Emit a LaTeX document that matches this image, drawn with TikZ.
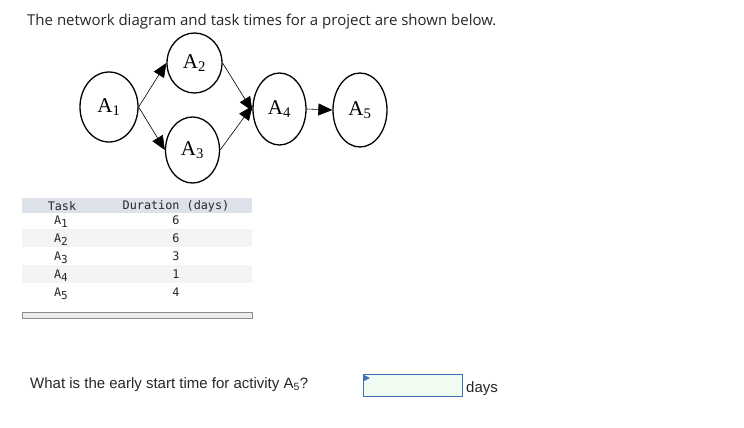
\documentclass[tikz,border=0pt]{standalone}
\usepackage{fontspec}
\setmainfont{Liberation Serif}
\setsansfont{Open Sans}
\setmonofont{DejaVu Sans Mono}
\newfontfamily\arialfont{Liberation Sans}
\usetikzlibrary{arrows.meta,shapes.geometric}

\definecolor{headgray}{HTML}{DDE1E9}
\definecolor{rowgray}{HTML}{F4F4F4}
\definecolor{boxblue}{HTML}{3C72B8}
\definecolor{boxgreen}{HTML}{F1FCF1}

\newcommand\lowsub[1]{\raisebox{-3.5pt}{\fontsize{11}{11}\selectfont #1}}

\begin{document}
\begin{tikzpicture}[x=1pt,y=-1pt,
    task/.style={ellipse,draw,line width=1.3pt,inner sep=0pt,
        font=\fontsize{21}{21}\selectfont},
    link/.style={-{Triangle[length=14pt,width=12pt]},line width=0.6pt},
    cell/.style={inner sep=0pt,text=black!85,
        font=\ttfamily\fontsize{11.8}{11.8}\selectfont}]
\useasboundingbox (0,0) rectangle (744,428);

% title
\node[anchor=base west,inner sep=0pt,text=black!85,font=\sffamily\fontsize{15}{15}\selectfont]
    (title) at (27,26) {The network diagram and task times for a project are shown below.};

% network
\node[task,minimum width=58pt,minimum height=70pt] (a1) at (109,107) {A\textsubscript{1}};
\node[task,minimum width=55pt,minimum height=60pt] (a2) at (194.5,63) {A\textsubscript{2}};
\node[task,minimum width=54pt,minimum height=66pt] (a3) at (192.5,150) {A\textsubscript{3}};
\node[task,minimum width=53pt,minimum height=72pt] (a4) at (279.5,109) {A\textsubscript{4}};
\node[task,minimum width=54pt,minimum height=74pt] (a5) at (360,110) {A\textsubscript{5}};

\draw[link] (a1.east) -- (a2.west);
\draw[link] (a1.east) -- (a3.west);
\draw[link] (a2.east) -- ([yshift=-2pt]a4.west);
\draw[link] (a3.east) -- ([yshift=3pt]a4.west);
\draw[link] (a4.east) -- (a5.west);

% table
\fill[headgray] (22,198) rectangle (252,213);
\foreach \y in {229,265}
    \fill[rowgray] (22,\y) rectangle (252,\y+18);
\node[cell] (thtask) at (62,206) {Task};
\node[cell] (thdur) at (176,206) {Duration (days)};
\foreach \i/\d in {1/6,2/6,3/3,4/1,5/4}
{
    \node[cell,anchor=base] (t\i) at (61,224+18*\i-18) {A\lowsub{\i}};
    \node[cell,anchor=base] (d\i) at (176,224+18*\i-18) {\d};
}
\draw[fill=black!8,draw=black!45] (22,312) rectangle (252,318);

% question
\node[anchor=base west,inner sep=0pt,text=black!85,font=\arialfont\fontsize{15}{15}\selectfont]
    (question) at (30,388) {What is the early start time for activity A\textsubscript{5}?};
\node[draw=boxblue,fill=boxgreen,line width=0.8pt,minimum width=99pt,minimum height=22pt,
    inner sep=0pt,anchor=north west] (answer) at (363,374) {};
\fill[boxblue] (answer.north west) ++(1,1) -- ++(6,3) -- ++(-6,3) -- cycle;
\node[anchor=base west,inner sep=0pt,text=black!85,font=\arialfont\fontsize{15}{15}\selectfont]
    (days) at (466,392) {days};

\end{tikzpicture}
\end{document}
